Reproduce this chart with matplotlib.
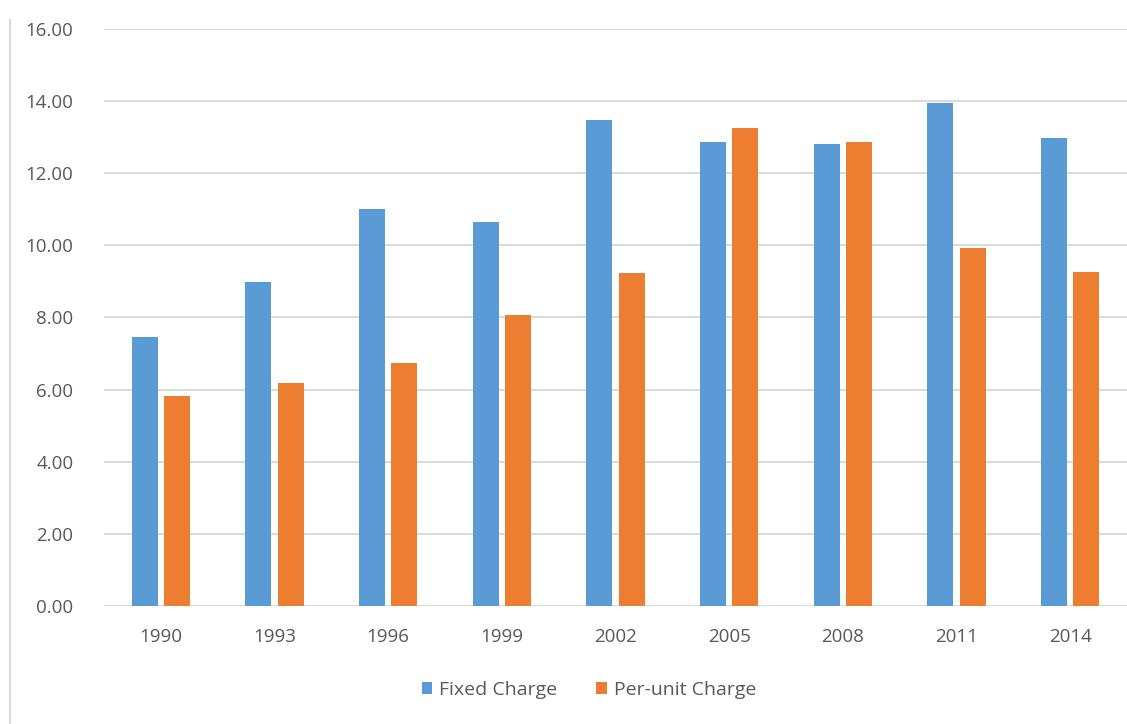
import matplotlib.pyplot as plt
from matplotlib.lines import Line2D
import numpy as np

plt.rcParams["font.family"] = ["Open Sans", "DejaVu Sans"]

# 数据
years = ["1990", "1993", "1996", "1999", "2002", "2005", "2008", "2011", "2014"]
fixed_charge = [7.47, 8.98, 11.01, 10.66, 13.47, 12.86, 12.80, 13.95, 12.98]
per_unit_charge = [5.83, 6.18, 6.74, 8.07, 9.22, 13.25, 12.86, 9.94, 9.26]

blue = "#5b9bd5"
orange = "#ed7d31"
text_gray = "#595959"

fig = plt.figure(figsize=(11.27, 7.24), dpi=100)
ax = fig.add_axes([0.0923, 0.163, 0.9077, 0.797])

x = np.arange(len(years))
w = 0.23
gap = 0.055
ax.bar(x - (w + gap) / 2, fixed_charge, width=w, color=blue, label="Fixed Charge", zorder=3)
ax.bar(x + (w + gap) / 2, per_unit_charge, width=w, color=orange, label="Per-unit Charge", zorder=3)

ax.set_xlim(-0.5, len(years) - 0.5)
ax.set_ylim(0, 16)
ax.set_yticks(np.arange(0, 17, 2))
ax.set_yticklabels([f"{v:.2f}" for v in np.arange(0, 17, 2)])
ax.set_xticks(x)
ax.set_xticklabels(years)
ax.grid(axis="y", color="#d9d9d9", linewidth=1.4, zorder=0)
for s in ax.spines.values():
    s.set_visible(False)
ax.tick_params(axis="both", length=0, labelsize=13.5, colors=text_gray)
ax.tick_params(axis="y", pad=22)
ax.tick_params(axis="x", pad=16)

leg = ax.legend(loc="upper center", bbox_to_anchor=(0.474, -0.1), ncol=2, frameon=False,
                fontsize=14, handlelength=0.55, handleheight=0.55, columnspacing=2.0, handletextpad=0.35)
for t in leg.get_texts():
    t.set_color(text_gray)

# 左侧边框线
fig.add_artist(Line2D([10 / 1127, 10 / 1127], [0, 1 - 20 / 724], transform=fig.transFigure,
                      color="#d9d9d9", linewidth=1.5))

plt.savefig("out.png", dpi=100)
